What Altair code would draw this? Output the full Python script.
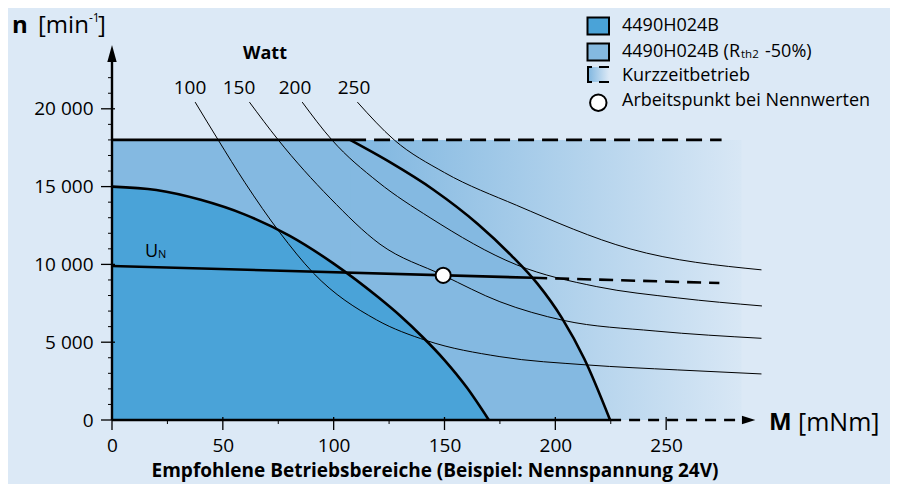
import altair as alt
import pandas as pd

FONT = "Open Sans"
BG = "#dce9f6"
DARK = "#4aa3d8"
LIGHT = "#84b9e1"

# ---------------- data ----------------
x_ticks = [0, 50, 100, 150, 200, 250]
x_minor = [25, 75, 125, 175, 225]
y_ticks = [0, 5000, 10000, 15000, 20000]
y_minor = [1000, 2000, 3000, 4000, 6000, 7000, 8000, 9000, 11000, 12000, 13000,
           14000, 16000, 17000, 18000, 19000, 21000, 22000]

# 4490H024B operating range (boundary)
dark_M = [0, 20, 40, 60, 80, 100, 120, 130, 140, 150, 160, 170]
dark_n = [15000, 14780, 14150, 13200, 11850, 10050, 7900, 6700, 5350, 3850, 2100, 0]

# 4490H024B (Rth2 -50%) : flat limit then curved boundary
speed_limit = 18000
corner_M = 107.4
light_M = [107.4, 125.0, 145.0, 165.0, 180.0, 192.0, 203.0, 213.0, 224.7]
light_n = [18000, 16600, 14800, 12600, 10600, 8750, 6550, 3950, 0]
short_term_end = 275.0   # end of dashed 18000 line
axis_dash_end = 284.0

# Power hyperbolas (Watt)
watts = [100, 150, 200, 250]
p100_M = [37.5, 47.9, 60.0, 75.8, 90.8, 119.4, 142.0, 175.0, 214.2, 255.0, 293.0]
p100_n = [20430, 18000, 15250, 12030, 9450, 6430, 5100, 4070, 3540, 3220, 2960]
p150_M = [62.0, 75.0, 98.4, 120.9, 149.4, 175.0, 203.7, 245.0, 293.0]
p150_n = [20430, 18000, 14260, 11300, 9300, 7600, 6400, 5720, 5250]
p200_M = [85.8, 99.2, 120.0, 143.5, 182.6, 218.7, 255.0, 293.2]
p200_n = [20430, 18000, 15300, 13000, 9970, 8570, 7850, 7330]
p250_M = [110.7, 127.3, 150.0, 182.5, 233.7, 293.0]
p250_n = [20430, 18000, 15900, 13800, 11000, 9650]

# U_N line (solid part, dashed part)
un_solid_M = [0, 190.0]
un_solid_n = [9900, 9140]
un_dash_M = [190.0, 274.0]
un_dash_n = [9140, 8800]

# rated operating point
rated_M = [149.4]
rated_n = [9300]

legend_labels = ["4490H024B", "Kurzzeitbetrieb", "Arbeitspunkt bei Nennwerten"]
title_text = "Empfohlene Betriebsbereiche (Beispiel: Nennspannung 24V)"

# ---------------- layout ----------------
W, H = 665, 389
xs = alt.Scale(domain=[0, 300], nice=False, zero=False)
ys = alt.Scale(domain=[0, 25000], nice=False, zero=False)

xaxis = alt.Axis(values=x_ticks, domain=False, ticks=False, grid=False, title=None,
                 labelFont=FONT, labelFontSize=19, labelColor="black", labelPadding=16,
                 labelFlush=False)
yaxis = alt.Axis(values=y_ticks, domain=False, ticks=False, grid=False, title=None,
                 labelFont=FONT, labelFontSize=19, labelColor="black", labelPadding=19,
                 labelExpr="replace(format(datum.value, ','), ',', ' ')")


def X(f):
    return alt.X(f, type="quantitative", scale=xs, axis=xaxis)


def Y(f):
    return alt.Y(f, type="quantitative", scale=ys, axis=yaxis)


one = pd.DataFrame({"a": [0]})

# gradient rectangle (short-term operation)
grad_df = pd.DataFrame({"x0": [0], "x1": [axis_dash_end], "y0": [0], "y1": [speed_limit]})
grad = alt.Chart(grad_df).mark_rect(
    fill=alt.Gradient(gradient="linear",
                      stops=[alt.GradientStop(color=LIGHT, offset=0),
                             alt.GradientStop(color=LIGHT, offset=0.42),
                             alt.GradientStop(color="#d8e7f5", offset=1)],
                      x1=0, x2=1, y1=0, y2=0)
).encode(x=X("x0"), x2="x1", y=Y("y0"), y2="y1")

light_rect_df = pd.DataFrame({"x0": [0], "x1": [corner_M], "y0": [0], "y1": [speed_limit]})
light_rect = alt.Chart(light_rect_df).mark_rect(fill=LIGHT).encode(
    x=X("x0"), x2="x1", y=Y("y0"), y2="y1")

light_df = pd.DataFrame({"M": light_M, "n": light_n})
light_area = alt.Chart(light_df).mark_area(fill=LIGHT, interpolate="monotone").encode(
    x=X("M"), y=Y("n"))

dark_df = pd.DataFrame({"M": dark_M, "n": dark_n})
dark_area = alt.Chart(dark_df).mark_area(fill=DARK, interpolate="monotone").encode(
    x=X("M"), y=Y("n"))

# power curves
rows = []
for w, ms, ns in zip(watts, [p100_M, p150_M, p200_M, p250_M], [p100_n, p150_n, p200_n, p250_n]):
    for i, (m, n) in enumerate(zip(ms, ns)):
        rows.append({"W": w, "M": m, "n": n, "o": i})
pw_df = pd.DataFrame(rows)
power = alt.Chart(pw_df).mark_line(color="black", strokeWidth=1, interpolate="monotone").encode(
    x=X("M"), y=Y("n"), detail="W:N", order="o:Q")

THICK = 2.6
light_line = alt.Chart(light_df).mark_line(color="black", strokeWidth=THICK, interpolate="monotone").encode(
    x=X("M"), y=Y("n"))
top_df = pd.DataFrame({"x0": [0], "x1": [corner_M], "y": [speed_limit]})
top_line = alt.Chart(top_df).mark_rule(color="black", strokeWidth=THICK).encode(
    x=X("x0"), x2="x1", y=Y("y"))
topd_df = pd.DataFrame({"x0": [corner_M], "x1": [short_term_end], "y": [speed_limit]})
top_dash = alt.Chart(topd_df).mark_rule(color="black", strokeWidth=THICK, strokeDash=[16, 8]).encode(
    x=X("x0"), x2="x1", y=Y("y"))
dark_line = alt.Chart(dark_df).mark_line(color="black", strokeWidth=THICK, interpolate="monotone").encode(
    x=X("M"), y=Y("n"))

un_s = alt.Chart(pd.DataFrame({"M": un_solid_M, "n": un_solid_n})).mark_line(
    color="black", strokeWidth=THICK).encode(x=X("M"), y=Y("n"))
un_d = alt.Chart(pd.DataFrame({"M": un_dash_M, "n": un_dash_n})).mark_line(
    color="black", strokeWidth=THICK, strokeDash=[14, 8]).encode(x=X("M"), y=Y("n"))

# axes
AX = 2.4
yaxis_line = alt.Chart(pd.DataFrame({"x": [0], "y0": [0], "y1": [23200]})).mark_rule(
    color="black", strokeWidth=AX).encode(x=X("x"), y=Y("y0"), y2="y1")
xaxis_line = alt.Chart(pd.DataFrame({"x0": [0], "x1": [light_M[-1]], "y": [0]})).mark_rule(
    color="black", strokeWidth=AX).encode(x=X("x0"), x2="x1", y=Y("y"))
xaxis_dash = alt.Chart(pd.DataFrame({"x0": [light_M[-1]], "x1": [axis_dash_end], "y": [0]})).mark_rule(
    color="black", strokeWidth=AX, strokeDash=[11, 8]).encode(x=X("x0"), x2="x1", y=Y("y"))
arrow_up = alt.Chart(pd.DataFrame({"x": [0], "y": [23555]})).mark_point(
    shape="M0,-1L0.55,1L-0.55,1Z", filled=True, color="black", size=289, opacity=1).encode(
    x=X("x"), y=Y("y"))
arrow_right = alt.Chart(pd.DataFrame({"x": [287.2], "y": [0]})).mark_point(
    shape="M1,0L-1,0.62L-1,-0.62Z", filled=True, color="black", size=180, opacity=1).encode(
    x=X("x"), y=Y("y"))

ymaj = alt.Chart(pd.DataFrame({"v": y_ticks})).mark_rule(color="black", strokeWidth=1.3).encode(
    y=Y("v"), x=alt.value(-11), x2=alt.value(3))
ymin = alt.Chart(pd.DataFrame({"v": y_minor})).mark_rule(color="black", strokeWidth=1).encode(
    y=Y("v"), x=alt.value(-4), x2=alt.value(0))
xmaj = alt.Chart(pd.DataFrame({"v": x_ticks})).mark_rule(color="black", strokeWidth=1.3).encode(
    x=X("v"), y=alt.value(H - 3), y2=alt.value(H + 10))
xmin = alt.Chart(pd.DataFrame({"v": x_minor})).mark_rule(color="black", strokeWidth=1).encode(
    x=X("v"), y=alt.value(H), y2=alt.value(H + 4))

rated = alt.Chart(pd.DataFrame({"M": rated_M, "n": rated_n})).mark_point(
    shape="circle", filled=True, fill="white", stroke="black", strokeWidth=2, size=230, opacity=1).encode(
    x=X("M"), y=Y("n"))


def txt(text, x, y, size, weight="normal", align="left", baseline="middle"):
    return alt.Chart(pd.DataFrame({"t": [text]})).mark_text(
        align=align, baseline=baseline, fontSize=size, fontWeight=weight, font=FONT, color="black"
    ).encode(x=alt.value(x), y=alt.value(y), text="t:N")


LEG = 18
texts = [
    txt("n", -100, 2, 24, "bold", baseline="alphabetic"),
    txt("[min", -74, 2, 24, baseline="alphabetic"),
    txt("-1", -23, -9, 12, baseline="alphabetic"),
    txt("]", -14, 2, 24, baseline="alphabetic"),
    txt("M", 657, 392, 24, "bold"),
    txt("[mNm]", 686, 392, 25),
    txt("Watt", 153, 23, 18, "bold", align="center"),
    txt("100", 78, 57, 19, align="center"),
    txt("150", 127, 57, 19, align="center"),
    txt("200", 183, 57, 19, align="center"),
    txt("250", 242, 57, 19, align="center"),
    txt("U", 33, 221, 18),
    txt("N", 46, 224, 11),
    txt(title_text, 323, 446, 19, "bold", align="center", baseline="alphabetic"),
    # legend texts
    txt(legend_labels[0], 510, -5, LEG),
    txt("4490H024B (R", 510, 20.5, LEG),
    txt("th2", 629, 23.5, 11.5),
    txt("-50%)", 653, 20.5, LEG),
    txt(legend_labels[1], 510, 45, LEG),
    txt(legend_labels[2], 510, 70, LEG),
]

sw1 = alt.Chart(one).mark_rect(fill=DARK, stroke="black", strokeWidth=2).encode(
    x=alt.value(475.5), x2=alt.value(497), y=alt.value(-13.5), y2=alt.value(3.5))
sw2 = alt.Chart(one).mark_rect(fill=LIGHT, stroke="black", strokeWidth=2).encode(
    x=alt.value(475.5), x2=alt.value(497), y=alt.value(12.5), y2=alt.value(29.5))
sw3 = alt.Chart(one).mark_rect(
    fill=alt.Gradient(gradient="linear",
                      stops=[alt.GradientStop(color=LIGHT, offset=0),
                             alt.GradientStop(color=BG, offset=1)],
                      x1=0, x2=1, y1=0, y2=0)).encode(
    x=alt.value(477), x2=alt.value(497), y=alt.value(36), y2=alt.value(51))
br_v = alt.Chart(one).mark_rule(color="black", strokeWidth=2).encode(
    x=alt.value(476), y=alt.value(35.5), y2=alt.value(51.5))
br_t = alt.Chart(one).mark_rule(color="black", strokeWidth=2).encode(
    x=alt.value(475), x2=alt.value(480), y=alt.value(36))
br_b = alt.Chart(one).mark_rule(color="black", strokeWidth=2).encode(
    x=alt.value(475), x2=alt.value(480), y=alt.value(51))
dash_t = alt.Chart(one).mark_rule(color="black", strokeWidth=2).encode(
    x=alt.value(487), x2=alt.value(497), y=alt.value(36))
dash_b = alt.Chart(one).mark_rule(color="black", strokeWidth=2).encode(
    x=alt.value(487), x2=alt.value(497), y=alt.value(51))
sw4 = alt.Chart(one).mark_point(shape="circle", filled=True, fill="white", stroke="black",
                                strokeWidth=2, size=270, opacity=1).encode(
    x=alt.value(486.3), y=alt.value(71.7))

chart = alt.layer(
    grad, light_rect, light_area, dark_area, power,
    light_line, top_line, top_dash, dark_line, un_s, un_d,
    yaxis_line, xaxis_line, xaxis_dash, arrow_up, arrow_right,
    ymaj, ymin, xmaj, xmin, rated,
    sw1, sw2, sw3, br_v, br_t, br_b, dash_t, dash_b, sw4,
    *texts
).properties(
    width=W, height=H,
    autosize=alt.AutoSizeParams(type="none"),
    padding={"left": 104, "top": 23, "right": 113, "bottom": 64},
).configure(background=BG).configure_view(strokeWidth=0)

chart.save("out.html", embed_options={"renderer": "svg", "actions": False})
